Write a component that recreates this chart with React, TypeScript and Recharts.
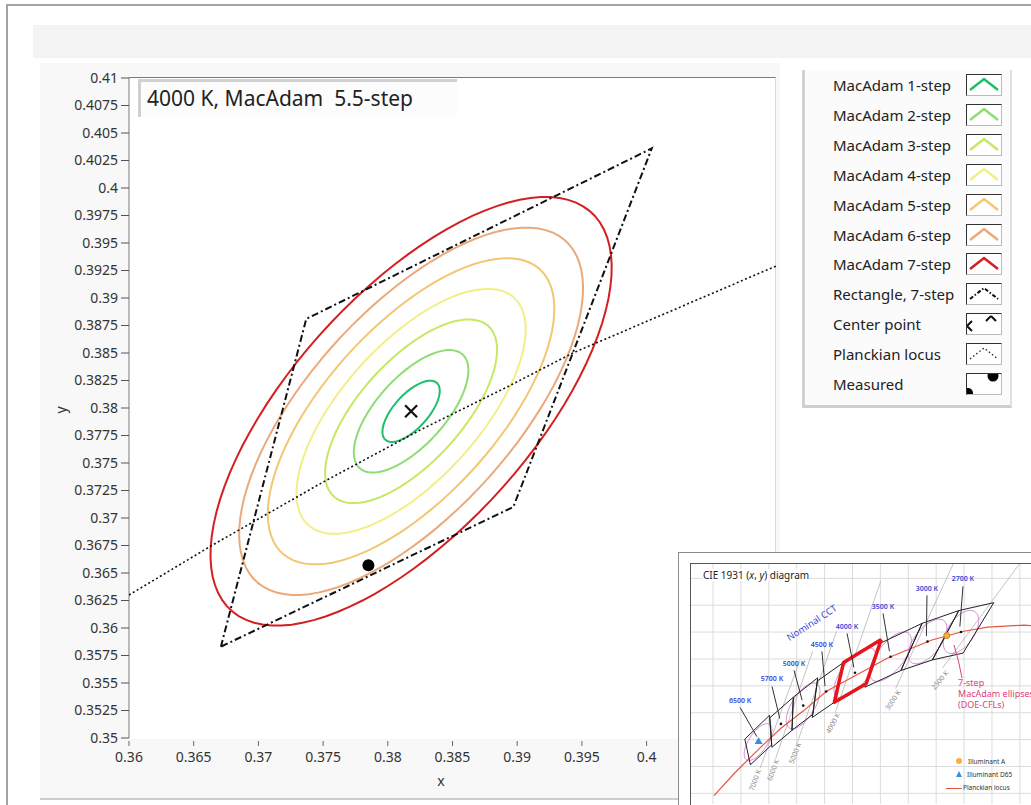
import { ScatterChart, Scatter, XAxis, YAxis, Legend, ReferenceLine } from 'recharts'

const FONT = '"Noto Sans", "DejaVu Sans", sans-serif'

// ---- main graph: MacAdam ellipses around the 4000 K nominal point ----
const stepNames = [
  'MacAdam 1-step', 'MacAdam 2-step', 'MacAdam 3-step', 'MacAdam 4-step',
  'MacAdam 5-step', 'MacAdam 6-step', 'MacAdam 7-step',
]
const stepCounts = [1, 2, 3, 4, 5, 6, 7]
const stepColors = ['#1dbf6b', '#8edd72', '#c6e862', '#f1ef86', '#f3c772', '#eba97a', '#d41f22']

// 1-step ellipse: semi-axes and tilt (deg), centre
const centerX = [0.3818]
const centerY = [0.3797]
const ellipseA = 0.00327
const ellipseB = 0.0014
const ellipseTilt = 54.5

// 7-step quadrangle corners
const quadX = [0.3671, 0.3737, 0.4004, 0.3897, 0.3671]
const quadY = [0.3583, 0.3881, 0.4036, 0.371, 0.3583]

// Planckian locus through the window
const planckX = [0.36, 0.3664, 0.3749, 0.3825, 0.3892, 0.3943, 0.41]
const planckY = [0.363, 0.3675, 0.3732, 0.378, 0.3819, 0.385, 0.3929]

const measuredX = [0.3785]
const measuredY = [0.3657]

const xTicks = [0.36, 0.365, 0.37, 0.375, 0.38, 0.385, 0.39, 0.395, 0.4, 0.405, 0.41]
const yTicks = [
  0.35, 0.3525, 0.355, 0.3575, 0.36, 0.3625, 0.365, 0.3675, 0.37, 0.3725, 0.375, 0.3775,
  0.38, 0.3825, 0.385, 0.3875, 0.39, 0.3925, 0.395, 0.3975, 0.4, 0.4025, 0.405, 0.4075, 0.41,
]

const legendNames = [...stepNames, 'Rectangle, 7-step', 'Center point', 'Planckian locus', 'Measured']

// ---- inset: CIE 1931 overview with ANSI quadrangles ----
const cieCct = ['6500 K', '5700 K', '5000 K', '4500 K', '4000 K', '3500 K', '3000 K', '2700 K']
const cieCenterX = [0.3123, 0.3287, 0.3447, 0.3611, 0.3818, 0.4073, 0.4338, 0.4578]
const cieCenterY = [0.3282, 0.3417, 0.3553, 0.3658, 0.3797, 0.3917, 0.403, 0.4101]
const cieQuadX = [
  [0.3205, 0.3028, 0.3068, 0.3221],
  [0.3376, 0.3207, 0.3222, 0.3366],
  [0.3551, 0.3376, 0.3366, 0.3515],
  [0.3736, 0.3548, 0.3512, 0.367],
  [0.4006, 0.3736, 0.367, 0.3898],
  [0.4299, 0.3996, 0.3889, 0.4147],
  [0.4562, 0.4299, 0.4147, 0.4373],
  [0.4813, 0.4562, 0.4373, 0.4593],
]
const cieQuadY = [
  [0.3481, 0.3304, 0.3113, 0.3261],
  [0.3616, 0.3462, 0.3243, 0.3369],
  [0.376, 0.3616, 0.3369, 0.3487],
  [0.3874, 0.3736, 0.3465, 0.3578],
  [0.4044, 0.3874, 0.3578, 0.3716],
  [0.4165, 0.4015, 0.369, 0.3814],
  [0.426, 0.4165, 0.3814, 0.3893],
  [0.4319, 0.426, 0.3893, 0.3944],
]
const cieLabelX = [0.2994, 0.3223, 0.3381, 0.3581, 0.3761, 0.4019, 0.4334, 0.4592]
const cieLabelY = [0.3594, 0.3751, 0.387, 0.4011, 0.4145, 0.4294, 0.4428, 0.4495]

const locusX = [0.2807, 0.2952, 0.3135, 0.3287, 0.3451, 0.3611, 0.3805, 0.4053, 0.4369, 0.4599, 0.477, 0.503, 0.5266]
const locusY = [0.2883, 0.3048, 0.3237, 0.3384, 0.3516, 0.3658, 0.3768, 0.3907, 0.4041, 0.4106, 0.4137, 0.4152, 0.4133]

// DOE CFL 7-step ellipses (1-step a, b, tilt)
const cflX = [0.3123, 0.3446, 0.3818, 0.4073, 0.4338, 0.4578]
const cflY = [0.3282, 0.3551, 0.3797, 0.3917, 0.403, 0.4101]
const cflA = [0.00223, 0.00274, 0.00313, 0.00309, 0.00278, 0.00258]
const cflB = [0.00095, 0.00118, 0.00134, 0.00138, 0.00136, 0.00137]
const cflTilt = [58.23, 59.37, 53.72, 54.0, 53.22, 57.17]

const isoNames = ['7000 K', '6000 K', '5000 K', '4000 K', '3000 K', '2500 K']
const isoLabelX = [0.3101, 0.323, 0.3388, 0.366, 0.409, 0.4427]
const isoLabelY = [0.2999, 0.3074, 0.32, 0.3423, 0.3594, 0.3743]
const isoAngle = [-70, -70, -68, -62, -57, -50]
const isoStartX = [0.3137, 0.3249, 0.3407, 0.3679, 0.4109, 0.4446]
const isoStartY = [0.3086, 0.316, 0.3286, 0.3509, 0.368, 0.3833]
const isoEndX = [0.3423, 0.3514, 0.3686, 0.4002, 0.4524, 0.5018]
const isoEndY = [0.389, 0.3956, 0.4105, 0.4477, 0.461, 0.4637]

const illumAX = [0.4476]
const illumAY = [0.4074]
const illumD65X = [0.3127]
const illumD65Y = [0.329]

const insetGridX = [0.28, 0.3, 0.32, 0.34, 0.36, 0.38, 0.4, 0.42, 0.44, 0.46, 0.48, 0.5, 0.52]
const insetGridY = [0.29, 0.31, 0.33, 0.35, 0.37, 0.39, 0.41, 0.43, 0.45]

const fmt = (v: number) => String(Number(v.toFixed(4)))
const zip = (xs: number[], ys: number[]) => xs.map((x, i) => ({ x, y: ys[i] }))

function ellipse(cx: number, cy: number, a: number, b: number, tiltDeg: number, n = 96) {
  const r = (tiltDeg * Math.PI) / 180
  const pts = []
  for (let i = 0; i <= n; i++) {
    const t = (i / n) * 2 * Math.PI
    pts.push({
      x: cx + a * Math.cos(t) * Math.cos(r) - b * Math.sin(t) * Math.sin(r),
      y: cy + a * Math.cos(t) * Math.sin(r) + b * Math.sin(t) * Math.cos(r),
    })
  }
  return pts
}

const noShape = () => <g />

function XTick({ x, y, payload }: any) {
  return (
    <g>
      <line x1={x} x2={x} y1={y + 3} y2={y + 8} stroke="#666" />
      <text x={x} y={y + 24} textAnchor="middle" fill="#333" fontSize={14}>
        {fmt(payload.value)}
      </text>
    </g>
  )
}

function LegendIcon({ index }: { index: number }) {
  const peak = '3,15 17,4 31,15'
  let body
  if (index < 7) {
    body = <polyline points={peak} fill="none" stroke={stepColors[index]} strokeWidth={2.5} />
  } else if (index === 7) {
    body = <polyline points={peak} fill="none" stroke="#111" strokeWidth={2} strokeDasharray="4 2 1.5 2" />
  } else if (index === 8) {
    body = (
      <path d="M0 12 L5 7 M0 12 L5 17 M24 2 L19 7 M24 2 L29 7" stroke="#111" strokeWidth={2} fill="none" />
    )
  } else if (index === 9) {
    body = <polyline points={peak} fill="none" stroke="#222" strokeWidth={1.3} strokeDasharray="1.5 2.5" />
  } else {
    body = (
      <g fill="#000">
        <circle cx={1} cy={19} r={5} />
        <circle cx={26} cy={2} r={5.5} />
      </g>
    )
  }
  return (
    <div style={{
      position: 'absolute', left: 161, top: 1, width: 36, height: 22, boxSizing: 'border-box',
      borderLeft: '1.5px solid #333', borderTop: '1.5px solid #333', borderRight: '1px solid #bbb',
      borderBottom: '1px solid #bbb', background: '#fff', overflow: 'hidden',
    }}>
      <svg width={34} height={20} style={{ display: 'block' }}>{body}</svg>
    </div>
  )
}

function LegendPanel() {
  return (
    <div style={{
      position: 'relative', width: 210, height: 338, boxSizing: 'border-box', background: '#fbfbfb',
      borderLeft: '3px solid #d2d2d2', borderRight: '2px solid #e0e0e0', borderBottom: '3px solid #cfcfcf',
      fontFamily: FONT,
    }}>
      {legendNames.map((name, i) => (
        <div key={name} style={{ position: 'absolute', left: 0, top: 3 + i * 29.9, width: 205, height: 24 }}>
          <span style={{ position: 'absolute', left: 28, top: 0, lineHeight: '24px', fontSize: 15, color: '#222' }}>
            {name}
          </span>
          <LegendIcon index={i} />
        </div>
      ))}
    </div>
  )
}

function MainChart() {
  return (
    <div style={{ position: 'absolute', left: 0, top: 0 }}>
      <ScatterChart width={1031} height={805} margin={{ top: 78, right: 255, bottom: 27, left: 69 }}>
        <XAxis
          type="number"
          dataKey="x"
          domain={[0.36, 0.41]}
          ticks={xTicks}
          interval={0}
          allowDataOverflow
          height={40}
          axisLine={false}
          tickLine={false}
          tickSize={0}
          tickMargin={0}
          tick={<XTick />}
        />
        <YAxis
          type="number"
          dataKey="y"
          domain={[0.35, 0.41]}
          ticks={yTicks}
          interval={0}
          allowDataOverflow
          width={60}
          tickSize={8}
          tickMargin={3}
          axisLine={{ stroke: '#7a7a7a' }}
          tickLine={{ stroke: '#555' }}
          tick={{ fill: '#333', fontSize: 14 }}
          tickFormatter={fmt}
        />
        {stepCounts.map((n, i) => (
          <Scatter
            key={stepNames[i]}
            name={stepNames[i]}
            data={ellipse(centerX[0], centerY[0], ellipseA * n, ellipseB * n, ellipseTilt)}
            fill={stepColors[i]}
            line={{ stroke: stepColors[i], strokeWidth: 2 }}
            shape={noShape}
            isAnimationActive={false}
          />
        ))}
        <Scatter
          name="Rectangle, 7-step"
          data={zip(quadX, quadY)}
          fill="#111"
          line={{ stroke: '#111', strokeWidth: 2, strokeDasharray: '7 3 2 3' }}
          shape={noShape}
          isAnimationActive={false}
        />
        <Scatter
          name="Center point"
          data={zip(centerX, centerY)}
          fill="#111"
          shape={(p: any) => (
            <path
              d={`M${p.cx - 6} ${p.cy - 6} L${p.cx + 6} ${p.cy + 6} M${p.cx + 6} ${p.cy - 6} L${p.cx - 6} ${p.cy + 6}`}
              stroke="#111"
              strokeWidth={2.2}
            />
          )}
          isAnimationActive={false}
        />
        <Scatter
          name="Planckian locus"
          data={zip(planckX, planckY)}
          fill="#111"
          line={{ stroke: '#111', strokeWidth: 1.6, strokeDasharray: '2 2.5' }}
          shape={noShape}
          isAnimationActive={false}
        />
        <Scatter
          name="Measured"
          data={zip(measuredX, measuredY)}
          fill="#000"
          shape={(p: any) => <circle cx={p.cx} cy={p.cy} r={6} fill="#000" />}
          isAnimationActive={false}
        />
        <Legend
          layout="vertical"
          align="center"
          verticalAlign="middle"
          wrapperStyle={{ left: 802, top: 70, width: 210 }}
          content={() => <LegendPanel />}
        />
      </ScatterChart>
    </div>
  )
}

const textShape = (fill: string, size: number, weight = 400) => (p: any) => (
  <text
    x={p.cx}
    y={p.cy}
    fill={fill}
    fontSize={size}
    fontWeight={weight}
    textAnchor="middle"
    dominantBaseline="central"
    transform={p.payload.angle ? `rotate(${p.payload.angle} ${p.cx} ${p.cy})` : undefined}
  >
    {p.payload.label}
  </text>
)

function CieInset() {
  const quadPts = (i: number) => [...zip(cieQuadX[i], cieQuadY[i]), { x: cieQuadX[i][0], y: cieQuadY[i][0] }]
  return (
    <div style={{
      position: 'absolute', left: 678, top: 552, width: 400, height: 300, background: '#fff',
      border: '1px solid #8c8c8c', boxSizing: 'border-box', fontFamily: FONT,
    }}>
      <ScatterChart width={382} height={252} margin={{ top: 10, right: 0, bottom: 1, left: 11 }}>
        <XAxis type="number" dataKey="x" domain={[0.2635, 0.5295]} hide allowDataOverflow />
        <YAxis type="number" dataKey="y" domain={[0.2821, 0.4614]} hide allowDataOverflow />
        {insetGridX.map((v) => (
          <ReferenceLine key={'gx' + v} x={v} stroke="#dcdcdc" strokeWidth={1} />
        ))}
        {insetGridY.map((v) => (
          <ReferenceLine key={'gy' + v} y={v} stroke="#dcdcdc" strokeWidth={1} />
        ))}
        {isoNames.map((n, i) => (
          <Scatter
            key={'iso' + n}
            data={[{ x: isoStartX[i], y: isoStartY[i] }, { x: isoEndX[i], y: isoEndY[i] }]}
            fill="#aaa"
            line={{ stroke: '#b4b4b4', strokeWidth: 0.8 }}
            shape={noShape}
            isAnimationActive={false}
          />
        ))}
        {cflX.map((cx, i) => (
          <Scatter
            key={'cfl' + i}
            data={ellipse(cx, cflY[i], cflA[i] * 7, cflB[i] * 7, cflTilt[i], 60)}
            fill="#d37ad6"
            line={{ stroke: '#d37ad6', strokeWidth: 0.9 }}
            shape={noShape}
            isAnimationActive={false}
          />
        ))}
        <Scatter
          data={zip(locusX, locusY)}
          fill="#e8553f"
          line={{ stroke: '#e8553f', strokeWidth: 1.2 }}
          lineType="joint"
          shape={noShape}
          isAnimationActive={false}
        />
        {cieCct.map((c, i) => (
          <Scatter
            key={'q' + c}
            data={quadPts(i)}
            fill="#222"
            line={{ stroke: '#222', strokeWidth: 1 }}
            shape={noShape}
            isAnimationActive={false}
          />
        ))}
        <Scatter
          data={quadPts(4)}
          fill="#e8141c"
          line={{ stroke: '#e8141c', strokeWidth: 3.5, strokeLinejoin: 'round' }}
          shape={noShape}
          isAnimationActive={false}
        />
        {cieCct.map((c, i) => (
          <Scatter
            key={'lead' + c}
            data={[
              { x: cieLabelX[i], y: cieLabelY[i] - 0.0055 },
              { x: cieCenterX[i] - 0.0008, y: cieCenterY[i] + 0.004 },
            ]}
            fill="#222"
            line={{ stroke: '#333', strokeWidth: 1 }}
            shape={noShape}
            isAnimationActive={false}
          />
        ))}
        <Scatter
          data={zip(cieCenterX, cieCenterY)}
          fill="#111"
          shape={(p: any) => <circle cx={p.cx} cy={p.cy} r={1.3} fill="#111" />}
          isAnimationActive={false}
        />
        <Scatter
          data={zip(illumAX, illumAY)}
          fill="#f0a020"
          shape={(p: any) => <circle cx={p.cx} cy={p.cy} r={3} fill="#f6b040" stroke="#d08010" />}
          isAnimationActive={false}
        />
        <Scatter
          data={zip(illumD65X, illumD65Y)}
          fill="#3a8ee0"
          shape={(p: any) => (
            <path d={`M${p.cx} ${p.cy - 4} L${p.cx + 4} ${p.cy + 3} L${p.cx - 4} ${p.cy + 3} Z`} fill="#3a8ee0" />
          )}
          isAnimationActive={false}
        />
        <Scatter
          data={cieCct.map((label, i) => ({ x: cieLabelX[i], y: cieLabelY[i], label }))}
          fill="#3a48d8"
          shape={textShape('#3a48d8', 7, 600)}
          isAnimationActive={false}
        />
        <Scatter
          data={[{ x: 0.3508, y: 0.417, label: 'Nominal CCT', angle: -33 }]}
          fill="#3a48d8"
          shape={textShape('#3a48d8', 9.5)}
          isAnimationActive={false}
        />
        <Scatter
          data={isoNames.map((label, i) => ({ x: isoLabelX[i], y: isoLabelY[i], label, angle: isoAngle[i] }))}
          fill="#888"
          shape={textShape('#8a8a8a', 7)}
          isAnimationActive={false}
        />
      </ScatterChart>
      <div style={{ position: 'absolute', left: 11, top: 10, width: 400, height: 300, borderTop: '1px solid #555', borderLeft: '1px solid #555' }} />
      <div style={{ position: 'absolute', left: 24, top: 16, fontSize: 10, lineHeight: '12px', color: '#222', background: '#fff' }}>
        CIE 1931 (<i>x</i>, <i>y</i>) diagram
      </div>
      <div style={{ position: 'absolute', left: 279, top: 124, fontSize: 9, lineHeight: '11px', color: '#e0407a', whiteSpace: 'nowrap' }}>
        7-step<br />MacAdam ellipses<br />(DOE-CFLs)
      </div>
      <svg style={{ position: 'absolute', left: 270, top: 90 }} width={20} height={36}>
        <path d="M13 35 Q10 18 5 2" stroke="#e0407a" strokeWidth={1} fill="none" />
      </svg>
      <div style={{ position: 'absolute', left: 277, top: 202, fontSize: 6.5, lineHeight: '13px', color: '#333', whiteSpace: 'nowrap' }}>
        <div><span style={{ display: 'inline-block', width: 6, height: 6, borderRadius: 3, background: '#f6b040', marginRight: 6 }} />Illuminant A</div>
        <div><span style={{ display: 'inline-block', width: 0, height: 0, borderLeft: '3.5px solid transparent', borderRight: '3.5px solid transparent', borderBottom: '6px solid #3a8ee0', marginRight: 5 }} />Illuminant D65</div>
        <div style={{ marginLeft: -10 }}><span style={{ display: 'inline-block', width: 16, height: 1.2, background: '#e8553f', verticalAlign: 'middle', marginRight: 1 }} />Planckian locus</div>
      </div>
    </div>
  )
}

export default function App() {
  return (
    <div style={{
      position: 'absolute', left: 0, top: 0, width: 1031, height: 805, overflow: 'hidden',
      background: '#fff', fontFamily: FONT,
    }}>
      <div style={{ position: 'absolute', left: 6, top: 4, width: 1100, height: 900, borderTop: '2px solid #a3a3a3', borderLeft: '2px solid #a3a3a3' }} />
      <div style={{ position: 'absolute', left: 33, top: 25, width: 1000, height: 33, background: '#f3f3f3' }} />
      <div style={{ position: 'absolute', left: 40, top: 63, width: 740, height: 735, background: '#f8f8f8', borderBottom: '2px solid #cdcdcd' }} />
      <div style={{ position: 'absolute', left: 129, top: 77, width: 646, height: 661, background: '#fff', borderTop: '1px solid #7a7a7a', borderRight: '1px solid #d8d8d8' }} />
      <MainChart />
      <div style={{
        position: 'absolute', left: 138, top: 79, width: 319, height: 38, boxSizing: 'border-box',
        borderTop: '3px solid #d0d0d0', borderLeft: '3px solid #d0d0d0', background: '#fcfcfc',
        fontSize: 21, lineHeight: '33px', paddingLeft: 6, color: '#222', whiteSpace: 'pre',
      }}>
        {'4000 K, MacAdam  5.5-step'}
      </div>
      <div style={{ position: 'absolute', left: 54, top: 398, width: 14, height: 24, fontSize: 14, color: '#333', transform: 'rotate(-90deg)', textAlign: 'center', lineHeight: '24px' }}>
        y
      </div>
      <div style={{ position: 'absolute', left: 434, top: 771, width: 14, fontSize: 14, color: '#333', textAlign: 'center', lineHeight: '20px' }}>
        x
      </div>
      <CieInset />
    </div>
  )
}
